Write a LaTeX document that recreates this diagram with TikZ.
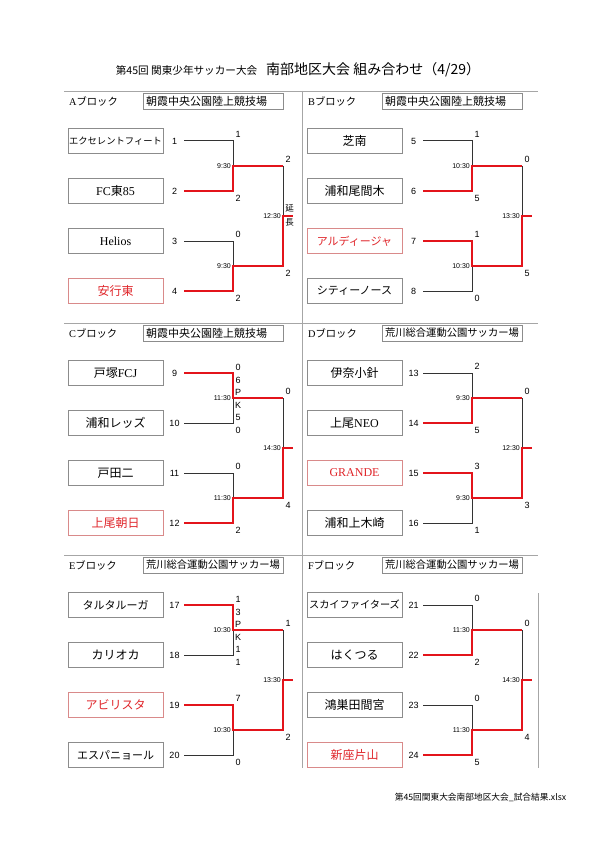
\documentclass[tikz,border=0pt]{standalone}
\usepackage{fontspec}
\setmainfont{Noto Sans CJK JP}
\newfontfamily\numfont{Liberation Sans}
\newfontfamily\romfont{Liberation Serif}
\usepackage{tikz}
\usetikzlibrary{positioning}
\definecolor{boxgray}{HTML}{8C8C8C}
\definecolor{linegray}{HTML}{333333}
\definecolor{rulegray}{HTML}{A6A6A6}
\definecolor{winred}{HTML}{E3141B}
\definecolor{champred}{HTML}{E0262B}
\definecolor{champline}{HTML}{D98A8A}

\begin{document}
\begin{tikzpicture}[
      x={(1pt,0)}, y={(0,-1pt)},
      team/.style={draw=boxgray, line width=0.6pt, minimum width=95pt,
                   minimum height=25pt, inner sep=1pt,
                   font=\fontsize{12}{14}\selectfont},
      champ/.style={team, draw=champline, text=champred},
      venue/.style={draw=boxgray, line width=0.6pt, text width=134pt,
                    inner xsep=3pt, minimum height=16pt, inner ysep=1pt,
                    align=left, font=\fontsize{11}{12}\selectfont},
      venue2/.style={venue, font=\fontsize{10.3}{12}\selectfont},
      blockname/.style={anchor=west, inner sep=0pt,
                        font=\fontsize{10.3}{12}\selectfont},
      seed/.style={minimum width=19pt, inner sep=0pt,
                   font=\numfont\fontsize{9}{10}\selectfont},
      score/.style={inner sep=0pt, font=\numfont\fontsize{9}{10}\selectfont},
      pk/.style={score, align=center, font=\numfont\fontsize{9}{12.3}\selectfont},
      note/.style={inner sep=0pt, align=center, font=\fontsize{8.5}{13.5}\selectfont},
      time/.style={anchor=east, inner sep=0pt,
                   font=\numfont\fontsize{7}{8}\selectfont},
      lose/.style={draw=linegray, line width=1pt},
      win/.style={draw=winred, line width=1.9pt},
      rule/.style={draw=rulegray, line width=0.8pt}
    ]

    \fill[white] (0,0) rectangle (596,842);
    \useasboundingbox (0,0) rectangle (596,842);

    \node (title) at (298,70)
      {{\fontsize{10.6}{12}\selectfont 第45回 関東少年サッカー大会}\hspace{9pt}%
       {\fontsize{14}{16}\selectfont 南部地区大会 組み合わせ（4/29）}};
    \node[font=\fontsize{8.7}{10}\selectfont] (footer) at (480.5,797)
      {第45回関東大会南部地区大会\_試合結果.xlsx};

    % frame
    \coordinate (ruleA) at (64,91);   \coordinate (ruleAe) at (538,91);
    \coordinate (ruleC) at (64,323);  \coordinate (ruleCe) at (538,323);
    \coordinate (ruleE) at (64,555);  \coordinate (ruleEe) at (538,555);
    \coordinate (midtop) at (302,91); \coordinate (midbot) at (302,768);
    \coordinate (rgttop) at (538,593); \coordinate (rgtbot) at (538,768);
    \draw[rule] (ruleA) -- (ruleAe);
    \draw[rule] (ruleC) -- (ruleCe);
    \draw[rule] (ruleE) -- (ruleEe);
    \draw[rule, line width=0.6pt] (midtop) -- (midbot);
    \draw[rule, line width=0.6pt] (rgttop) -- (rgtbot);

    % A block
    \begin{scope}
      \node[blockname] (hdA) at (69,101) {{\romfont A}ブロック};
      \node[venue] (vnA) at (213,101) {朝霞中央公園陸上競技場};
      \node[team, font=\fontsize{9.3}{11}\selectfont] (tA1) at (115.5,141) {エクセレントフィート};
      \node[team] (tA2) at (115.5,191) {{\romfont FC}東{\romfont 85}};
      \node[team] (tA3) at (115.5,241) {\romfont Helios};
      \node[champ] (tA4) at (115.5,291) {安行東};
      \node[seed] (sA1) at (174.5,141) {1};
      \node[seed] (sA2) at (174.5,191) {2};
      \node[seed] (sA3) at (174.5,241) {3};
      \node[seed] (sA4) at (174.5,291) {4};
      \coordinate (mA1) at (233,166);
      \coordinate (mA2) at (233,266);
      \coordinate (rA1) at (283,166);
      \coordinate (rA2) at (283,266);
      \coordinate (fA) at (283,216);
      \coordinate (eA) at (293,216);
      \draw[lose] (sA1.east) -| (mA1);
      \draw[lose] (sA3.east) -| (mA2);
      \draw[lose] (rA1) -- (fA);
      \draw[win] (sA2.east) -| (mA1) -- (rA1);
      \draw[win] (sA4.east) -| (mA2) -- (rA2) -- (fA) -- (eA);
      \node[score] (pA1) at (238,134.5) {1};
      \node[score] (pA2) at (238,198) {2};
      \node[score] (pA3) at (238,234.5) {0};
      \node[score] (pA4) at (238,298) {2};
      \node[score] (pA5) at (288,159.5) {2};
      \node[score] (pA6) at (288,273) {2};
      \node[note] (exA) at (289.5,215.5) {延\\長};
      \node[time] (kA1) at (231,166) {9:30};
      \node[time] (kA2) at (231,266) {9:30};
      \node[time] (kA3) at (281,216) {12:30};
    \end{scope}

    % B block
    \begin{scope}[shift={(239,0)}]
      \node[blockname] (hdB) at (69,101) {{\romfont B}ブロック};
      \node[venue] (vnB) at (213,101) {朝霞中央公園陸上競技場};
      \node[team] (tB1) at (115.5,141) {芝南};
      \node[team] (tB2) at (115.5,191) {浦和尾間木};
      \node[champ, font=\fontsize{11}{12}\selectfont] (tB3) at (115.5,241) {アルディージャ};
      \node[team, font=\fontsize{11}{12}\selectfont] (tB4) at (115.5,291) {シティーノース};
      \node[seed] (sB1) at (174.5,141) {5};
      \node[seed] (sB2) at (174.5,191) {6};
      \node[seed] (sB3) at (174.5,241) {7};
      \node[seed] (sB4) at (174.5,291) {8};
      \coordinate (mB1) at (233,166);
      \coordinate (mB2) at (233,266);
      \coordinate (rB1) at (283,166);
      \coordinate (rB2) at (283,266);
      \coordinate (fB) at (283,216);
      \coordinate (eB) at (293,216);
      \draw[lose] (sB1.east) -| (mB1);
      \draw[lose] (sB4.east) -| (mB2);
      \draw[lose] (rB1) -- (fB);
      \draw[win] (sB2.east) -| (mB1) -- (rB1);
      \draw[win] (sB3.east) -| (mB2) -- (rB2) -- (fB) -- (eB);
      \node[score] (pB1) at (238,134.5) {1};
      \node[score] (pB2) at (238,198) {5};
      \node[score] (pB3) at (238,234.5) {1};
      \node[score] (pB4) at (238,298) {0};
      \node[score] (pB5) at (288,159.5) {0};
      \node[score] (pB6) at (288,273) {5};
      \node[time] (kB1) at (231,166) {10:30};
      \node[time] (kB2) at (231,266) {10:30};
      \node[time] (kB3) at (281,216) {13:30};
    \end{scope}

    % C block
    \begin{scope}[shift={(0,232)}]
      \node[blockname] (hdC) at (69,101) {{\romfont C}ブロック};
      \node[venue] (vnC) at (213,101) {朝霞中央公園陸上競技場};
      \node[team] (tC1) at (115.5,141) {戸塚{\romfont FCJ}};
      \node[team] (tC2) at (115.5,191) {浦和レッズ};
      \node[team] (tC3) at (115.5,241) {戸田二};
      \node[champ] (tC4) at (115.5,291) {上尾朝日};
      \node[seed] (sC1) at (174.5,141) {9};
      \node[seed] (sC2) at (174.5,191) {10};
      \node[seed] (sC3) at (174.5,241) {11};
      \node[seed] (sC4) at (174.5,291) {12};
      \coordinate (mC1) at (233,166);
      \coordinate (mC2) at (233,266);
      \coordinate (rC1) at (283,166);
      \coordinate (rC2) at (283,266);
      \coordinate (fC) at (283,216);
      \coordinate (eC) at (293,216);
      \draw[lose] (sC2.east) -| (mC1);
      \draw[lose] (sC3.east) -| (mC2);
      \draw[lose] (rC1) -- (fC);
      \draw[win] (sC1.east) -| (mC1) -- (rC1);
      \draw[win] (sC4.east) -| (mC2) -- (rC2) -- (fC) -- (eC);
      \node[score] (pC1) at (238,135.5) {0};
      \node[score] (pC2) at (238,198) {0};
      \node[pk] (xC1) at (238,167) {6\\P\\K\\5};
      \node[score] (pC3) at (238,234.5) {0};
      \node[score] (pC4) at (238,298) {2};
      \node[score] (pC5) at (288,159.5) {0};
      \node[score] (pC6) at (288,273) {4};
      \node[time] (kC1) at (231,166) {11:30};
      \node[time] (kC2) at (231,266) {11:30};
      \node[time] (kC3) at (281,216) {14:30};
    \end{scope}

    % D block
    \begin{scope}[shift={(239,232)}]
      \node[blockname] (hdD) at (69,101) {{\romfont D}ブロック};
      \node[venue2] (vnD) at (213,101) {荒川総合運動公園サッカー場};
      \node[team] (tD1) at (115.5,141) {伊奈小針};
      \node[team] (tD2) at (115.5,191) {上尾{\romfont NEO}};
      \node[champ] (tD3) at (115.5,241) {\romfont GRANDE};
      \node[team] (tD4) at (115.5,291) {浦和上木崎};
      \node[seed] (sD1) at (174.5,141) {13};
      \node[seed] (sD2) at (174.5,191) {14};
      \node[seed] (sD3) at (174.5,241) {15};
      \node[seed] (sD4) at (174.5,291) {16};
      \coordinate (mD1) at (233,166);
      \coordinate (mD2) at (233,266);
      \coordinate (rD1) at (283,166);
      \coordinate (rD2) at (283,266);
      \coordinate (fD) at (283,216);
      \coordinate (eD) at (293,216);
      \draw[lose] (sD1.east) -| (mD1);
      \draw[lose] (sD4.east) -| (mD2);
      \draw[lose] (rD1) -- (fD);
      \draw[win] (sD2.east) -| (mD1) -- (rD1);
      \draw[win] (sD3.east) -| (mD2) -- (rD2) -- (fD) -- (eD);
      \node[score] (pD1) at (238,134.5) {2};
      \node[score] (pD2) at (238,198) {5};
      \node[score] (pD3) at (238,234.5) {3};
      \node[score] (pD4) at (238,298) {1};
      \node[score] (pD5) at (288,159.5) {0};
      \node[score] (pD6) at (288,273) {3};
      \node[time] (kD1) at (231,166) {9:30};
      \node[time] (kD2) at (231,266) {9:30};
      \node[time] (kD3) at (281,216) {12:30};
    \end{scope}

    % E block
    \begin{scope}[shift={(0,464)}]
      \node[blockname] (hdE) at (69,101) {{\romfont E}ブロック};
      \node[venue2] (vnE) at (213,101) {荒川総合運動公園サッカー場};
      \node[team, font=\fontsize{11}{12}\selectfont] (tE1) at (115.5,141) {タルタルーガ};
      \node[team] (tE2) at (115.5,191) {カリオカ};
      \node[champ] (tE3) at (115.5,241) {アビリスタ};
      \node[team, font=\fontsize{11}{12}\selectfont] (tE4) at (115.5,291) {エスパニョール};
      \node[seed] (sE1) at (174.5,141) {17};
      \node[seed] (sE2) at (174.5,191) {18};
      \node[seed] (sE3) at (174.5,241) {19};
      \node[seed] (sE4) at (174.5,291) {20};
      \coordinate (mE1) at (233,166);
      \coordinate (mE2) at (233,266);
      \coordinate (rE1) at (283,166);
      \coordinate (rE2) at (283,266);
      \coordinate (fE) at (283,216);
      \coordinate (eE) at (293,216);
      \draw[lose] (sE2.east) -| (mE1);
      \draw[lose] (sE4.east) -| (mE2);
      \draw[lose] (rE1) -- (fE);
      \draw[win] (sE1.east) -| (mE1) -- (rE1);
      \draw[win] (sE3.east) -| (mE2) -- (rE2) -- (fE) -- (eE);
      \node[score] (pE1) at (238,135.5) {1};
      \node[score] (pE2) at (238,198) {1};
      \node[pk] (xE1) at (238,167) {3\\P\\K\\1};
      \node[score] (pE3) at (238,234.5) {7};
      \node[score] (pE4) at (238,298) {0};
      \node[score] (pE5) at (288,159.5) {1};
      \node[score] (pE6) at (288,273) {2};
      \node[time] (kE1) at (231,166) {10:30};
      \node[time] (kE2) at (231,266) {10:30};
      \node[time] (kE3) at (281,216) {13:30};
    \end{scope}

    % F block
    \begin{scope}[shift={(239,464)}]
      \node[blockname] (hdF) at (69,101) {{\romfont F}ブロック};
      \node[venue2] (vnF) at (213,101) {荒川総合運動公園サッカー場};
      \node[team, font=\fontsize{10.2}{12}\selectfont] (tF1) at (115.5,141) {スカイファイターズ};
      \node[team] (tF2) at (115.5,191) {はくつる};
      \node[team] (tF3) at (115.5,241) {鴻巣田間宮};
      \node[champ] (tF4) at (115.5,291) {新座片山};
      \node[seed] (sF1) at (174.5,141) {21};
      \node[seed] (sF2) at (174.5,191) {22};
      \node[seed] (sF3) at (174.5,241) {23};
      \node[seed] (sF4) at (174.5,291) {24};
      \coordinate (mF1) at (233,166);
      \coordinate (mF2) at (233,266);
      \coordinate (rF1) at (283,166);
      \coordinate (rF2) at (283,266);
      \coordinate (fF) at (283,216);
      \coordinate (eF) at (293,216);
      \draw[lose] (sF1.east) -| (mF1);
      \draw[lose] (sF3.east) -| (mF2);
      \draw[lose] (rF1) -- (fF);
      \draw[win] (sF2.east) -| (mF1) -- (rF1);
      \draw[win] (sF4.east) -| (mF2) -- (rF2) -- (fF) -- (eF);
      \node[score] (pF1) at (238,134.5) {0};
      \node[score] (pF2) at (238,198) {2};
      \node[score] (pF3) at (238,234.5) {0};
      \node[score] (pF4) at (238,298) {5};
      \node[score] (pF5) at (288,159.5) {0};
      \node[score] (pF6) at (288,273) {4};
      \node[time] (kF1) at (231,166) {11:30};
      \node[time] (kF2) at (231,266) {11:30};
      \node[time] (kF3) at (281,216) {14:30};
    \end{scope}

  \end{tikzpicture}
\end{document}
